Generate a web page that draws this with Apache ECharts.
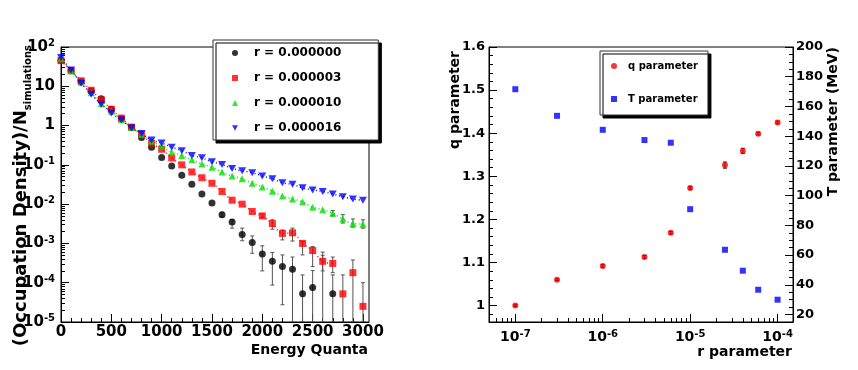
<!DOCTYPE html>
<html>
<head>
<meta charset="utf-8">
<script src="https://cdn.jsdelivr.net/npm/echarts@6/dist/echarts.min.js"></script>
<style>
  html, body { margin: 0; padding: 0; background: #fff; }
  #chart { width: 858px; height: 370px; }
</style>
</head>
<body>
<div id="chart"></div>
<script>
// ---- left panel: occupation density vs energy quanta ----
const energy = [0, 100, 200, 300, 400, 500, 600, 700, 800, 900, 1000, 1100, 1200, 1300, 1400, 1500,
  1600, 1700, 1800, 1900, 2000, 2100, 2200, 2300, 2400, 2500, 2600, 2700, 2800, 2900, 3000];
const legendNames = ['r = 0.000000', 'r = 0.000003', 'r = 0.000010', 'r = 0.000016'];

const rZero = [45, 25, 13, 7.6, 4.8, 2.6, 1.5, 0.91, 0.50, 0.28, 0.155, 0.093, 0.054, 0.032, 0.018, 0.0107,
  0.0054, 0.0035, 0.0017, 0.00105, 0.00054, 0.00035, 0.00026, 0.00022, 5.2e-5, 7.6e-5, null, 5.2e-5, null, null, null];
const rSmall = [45, 25, 13.8, 7.9, 4.5, 2.6, 1.55, 0.91, 0.60, 0.355, 0.25, 0.15, 0.10, 0.066, 0.047, 0.034,
  0.021, 0.0126, 0.0100, 0.0065, 0.0050, 0.0032, 0.0018, 0.00186, 0.0010, 0.00066, 0.00035, 0.00031, 5.2e-5, 0.00018, 2.5e-5];
const rMid = [50, 25, 12.6, 6.8, 3.6, 2.3, 1.41, 0.89, 0.59, 0.40, 0.30, 0.21, 0.174, 0.135, 0.105, 0.087,
  0.066, 0.052, 0.044, 0.034, 0.0275, 0.0214, 0.0162, 0.0135, 0.0115, 0.0083, 0.0072, 0.0059, 0.0042, 0.0032, 0.0031];
const rLarge = [54, 26, 12, 6.3, 3.5, 2.1, 1.38, 0.87, 0.63, 0.43, 0.36, 0.28, 0.23, 0.174, 0.151, 0.120,
  0.102, 0.081, 0.071, 0.063, 0.052, 0.044, 0.035, 0.032, 0.026, 0.023, 0.021, 0.018, 0.0155, 0.0135, 0.0126];

// error bars: [energy, low, high]
const rZeroErr = [[1600, 0.0047, 0.0062], [1700, 0.00245, 0.0040], [1800, 0.00117, 0.00245], [1900, 0.00056, 0.00155],
  [2000, 0.0002, 0.00087], [2100, 8.7e-5, 0.00059], [2200, 2.75e-5, 0.00051], [2300, 1e-5, 0.00045],
  [2400, 1e-5, 0.000158], [2500, 1e-5, 0.000204], [2600, 1e-5, 0.0006], [2700, 1e-5, 0.000158]];
const rSmallErr = [[2000, 0.0045, 0.0056], [2100, 0.0023, 0.0040], [2200, 0.00123, 0.0022], [2300, 0.00115, 0.00245],
  [2400, 0.00051, 0.00112], [2500, 0.00026, 0.00083], [2600, 0.0002, 0.0005], [2700, 0.00018, 0.00045],
  [2800, 1e-5, 0.000158], [2900, 1e-5, 0.00038], [3000, 1e-5, 0.0001]];
const rMidErr = [[2700, 0.0050, 0.0069], [2800, 0.0033, 0.0054], [2900, 0.0026, 0.0042], [3000, 0.00245, 0.0040]];

const energyTicks = [0, 500, 1000, 1500, 2000, 2500, 3000];
const densityTicks = [1e-5, 1e-4, 1e-3, 1e-2, 1e-1, 1, 10, 100];

// ---- right panel: fit parameters vs r ----
const rParam = [1e-7, 3e-7, 1e-6, 3e-6, 6e-6, 1e-5, 2.5e-5, 4e-5, 6e-5, 1e-4];
const qParam = [1.0, 1.06, 1.092, 1.113, 1.169, 1.273, 1.326, 1.359, 1.399, 1.425];
const qErr = [0.002, 0.002, 0.003, 0.003, 0.003, 0.003, 0.007, 0.006, 0.003, 0.003];
const tParam = [171.6, 153.7, 144.3, 137.4, 135.6, 90.9, 63.6, 49.5, 36.7, 30];

const rTicks = [1e-7, 1e-6, 1e-5, 1e-4];
const qTicks = [1.0, 1.1, 1.2, 1.3, 1.4, 1.5, 1.6];
const tTicks = [20, 40, 60, 80, 100, 120, 140, 160, 180, 200];

const FONT = 'DejaVu Sans';
const colors = ['#000000', '#ff0000', '#00e000', '#0000ff'];
const invTriangle = 'path://M0,0L10,0L5,9Z';

// minor tick positions
const energyMinor = [];
for (let e = 100; e < 3060; e += 100) if (e % 500) energyMinor.push(e);
const densityMinor = [];
for (let p = -5; p < 2; p++) for (let m = 2; m <= 9; m++) densityMinor.push(m * Math.pow(10, p));
const rMinor = [];
for (let p = -8; p < -4; p++) for (let m = 2; m <= 9; m++) {
  const v = m * Math.pow(10, p);
  if (v > 5e-8 && v < 1.5e-4) rMinor.push(v);
}
const qMinor = [];
for (let i = 0; i <= 32; i++) { const v = +(0.96 + i * 0.02).toFixed(2); if (v > 0.962 && Math.round(v * 100) % 10) qMinor.push(v); }
const tMinor = [];
for (let t = 15; t < 200; t += 5) if (t % 20) tMinor.push(t);

const supLabel = v => {
  const e = Math.round(Math.log10(v));
  if (e === 0) return '1';
  if (e === 1) return '10';
  return '10{sup|' + e + '}';
};

const pairs = (xs, ys) => xs.map((x, i) => ys[i] == null ? null : [x, ys[i]]).filter(Boolean);

const errorBar = color => (params, api) => {
  const x = api.value(0);
  const lo = api.coord([x, api.value(1)]);
  const hi = api.coord([x, api.value(2)]);
  const line = (x1, y1, x2, y2) => ({
    type: 'line', shape: { x1, y1, x2, y2 }, style: { stroke: color, lineWidth: 1 }
  });
  return {
    type: 'group',
    children: [
      line(lo[0], lo[1], hi[0], hi[1]),
      line(hi[0] - 2, hi[1], hi[0] + 2, hi[1]),
      line(lo[0] - 2, lo[1], lo[0] + 2, lo[1])
    ]
  };
};

const tickAxis = (extra) => Object.assign({
  axisLine: { show: true, lineStyle: { color: '#000', width: 1 } },
  axisTick: { show: true, inside: true, length: 8, lineStyle: { color: '#000' } },
  splitLine: { show: false },
  axisLabel: { color: '#000', fontFamily: FONT, fontWeight: 'bold', fontSize: 15 }
}, extra);

const minorAxis = (extra, ticks, len) => Object.assign({
  axisLine: { show: false },
  axisTick: { show: true, inside: true, length: len || 4, lineStyle: { color: '#000' }, customValues: ticks },
  axisLabel: { show: false },
  splitLine: { show: false }
}, extra);

const supRich = { sup: { fontSize: 10, fontWeight: 'bold', fontFamily: FONT, verticalAlign: 'top', padding: [0, 0, 7, 0] } };

const chart = echarts.init(document.getElementById('chart'), null, { renderer: 'canvas' });

const option = {
  animation: false,
  backgroundColor: '#fff',
  grid: [
    { left: 61, top: 47, width: 308, height: 275, show: true, borderColor: '#000', borderWidth: 1, backgroundColor: 'transparent' },
    { left: 489, top: 47, width: 304, height: 275, show: true, borderColor: '#000', borderWidth: 1, backgroundColor: 'transparent' }
  ],
  xAxis: [
    tickAxis({
      gridIndex: 0, type: 'value', min: 0, max: 3060, position: 'bottom',
      axisTick: { show: true, inside: true, length: 8, lineStyle: { color: '#000' }, customValues: energyTicks },
      axisLabel: {
        color: '#000', fontFamily: FONT, fontWeight: 'bold', fontSize: 15, margin: 3,
        customValues: energyTicks, formatter: v => String(v)
      }
    }),
    minorAxis({ gridIndex: 0, type: 'value', min: 0, max: 3060, position: 'bottom' }, energyMinor),
    tickAxis({
      gridIndex: 1, type: 'log', logBase: 10, min: 5e-8, max: 1.5e-4, position: 'bottom',
      axisTick: { show: true, inside: true, length: 8, lineStyle: { color: '#000' }, customValues: rTicks },
      axisLabel: {
        color: '#000', fontFamily: FONT, fontWeight: 'bold', fontSize: 14, margin: 7,
        customValues: rTicks, formatter: supLabel, rich: supRich
      }
    }),
    minorAxis({ gridIndex: 1, type: 'log', logBase: 10, min: 5e-8, max: 1.5e-4, position: 'bottom' }, rMinor)
  ],
  yAxis: [
    tickAxis({
      gridIndex: 0, type: 'log', logBase: 10, min: 1e-5, max: 100, position: 'left',
      axisTick: { show: true, inside: true, length: 8, lineStyle: { color: '#000' }, customValues: densityTicks },
      axisLabel: {
        color: '#000', fontFamily: FONT, fontWeight: 'bold', fontSize: 15, margin: 6,
        customValues: densityTicks, formatter: supLabel, rich: supRich
      }
    }),
    minorAxis({ gridIndex: 0, type: 'log', logBase: 10, min: 1e-5, max: 100, position: 'left' }, densityMinor),
    tickAxis({
      gridIndex: 1, type: 'value', min: 0.962, max: 1.6, position: 'left',
      axisTick: { show: true, inside: true, length: 8, lineStyle: { color: '#000' }, customValues: qTicks },
      axisLabel: {
        color: '#000', fontFamily: FONT, fontWeight: 'bold', fontSize: 13, margin: 4,
        customValues: qTicks, formatter: v => (Math.abs(v - 1) < 1e-9 ? '1' : v.toFixed(1))
      }
    }),
    minorAxis({ gridIndex: 1, type: 'value', min: 0.962, max: 1.6, position: 'left' }, qMinor),
    tickAxis({
      gridIndex: 1, type: 'value', min: 15, max: 200, position: 'right',
      axisTick: { show: true, inside: true, length: 8, lineStyle: { color: '#000' }, customValues: tTicks },
      axisLabel: { color: '#000', fontFamily: FONT, fontWeight: 'bold', fontSize: 13, margin: 3, customValues: tTicks }
    }),
    minorAxis({ gridIndex: 1, type: 'value', min: 15, max: 200, position: 'right' }, tMinor)
  ],
  legend: [
    {
      data: legendNames.map((n, i) => ({ name: n, icon: i === 3 ? invTriangle : undefined })),
      orient: 'vertical', left: 213, top: 40,
      itemWidth: 6, itemHeight: 6, itemGap: 11,
      padding: [6, 37, 5, 19],
      backgroundColor: '#fff', borderColor: '#333', borderWidth: 1,
      shadowColor: '#000', shadowBlur: 0, shadowOffsetX: 3, shadowOffsetY: 3,
      selectedMode: false,
      textStyle: { fontFamily: FONT, fontWeight: 'bold', fontSize: 12, color: '#000', lineHeight: 14, padding: [0, 0, 0, 11] }
    },
    {
      data: ['q parameter', 'T parameter'],
      orient: 'vertical', left: 600, top: 51,
      itemWidth: 6, itemHeight: 6, itemGap: 21,
      padding: [9, 10, 10, 11],
      backgroundColor: '#fff', borderColor: '#333', borderWidth: 1,
      shadowColor: '#000', shadowBlur: 0, shadowOffsetX: 3, shadowOffsetY: 3,
      selectedMode: false,
      textStyle: { fontFamily: FONT, fontWeight: 'bold', fontSize: 10, color: '#000', lineHeight: 12, padding: [0, 0, 0, 6] }
    }
  ],
  graphic: [
    { type: 'text', x: 368, y: 350, style: { text: 'Energy Quanta', fontFamily: FONT, fontWeight: 'bold', fontSize: 14, fill: '#000', align: 'right', verticalAlign: 'middle' } },
    { type: 'text', x: 792, y: 352, style: { text: 'r parameter', fontFamily: FONT, fontWeight: 'bold', fontSize: 14, fill: '#000', align: 'right', verticalAlign: 'middle' } },
    {
      type: 'text', x: 21, y: 45, rotation: Math.PI / 2,
      style: {
        text: '(Occupation Density)/N{sub|simulations}', fontFamily: FONT, fontWeight: 'bold', fontSize: 18, fill: '#000',
        align: 'right', verticalAlign: 'middle',
        rich: { sub: { fontFamily: FONT, fontWeight: 'bold', fontSize: 10, verticalAlign: 'bottom', padding: [0, 0, -3, 0] } }
      }
    },
    { type: 'text', x: 455, y: 51, rotation: Math.PI / 2, style: { text: 'q parameter', fontFamily: FONT, fontWeight: 'bold', fontSize: 14, fill: '#000', align: 'right', verticalAlign: 'middle' } },
    { type: 'text', x: 833, y: 47, rotation: Math.PI / 2, style: { text: 'T parameter (MeV)', fontFamily: FONT, fontWeight: 'bold', fontSize: 14, fill: '#000', align: 'right', verticalAlign: 'middle' } }
  ],
  series: [
    // fit curves (dotted)
    { name: 'fit3', type: 'line', xAxisIndex: 0, yAxisIndex: 0, data: pairs(energy.slice(0, 28), rSmall.slice(0, 28)), smooth: 0.4, showSymbol: false, silent: true, lineStyle: { color: colors[1], width: 1.5, type: [1, 3] }, z: 1 },
    { name: 'fit10', type: 'line', xAxisIndex: 0, yAxisIndex: 0, data: pairs(energy, rMid), smooth: 0.4, showSymbol: false, silent: true, lineStyle: { color: colors[2], width: 1.5, type: [1, 3] }, z: 1 },
    { name: 'fit16', type: 'line', xAxisIndex: 0, yAxisIndex: 0, data: pairs(energy, rLarge), smooth: 0.4, showSymbol: false, silent: true, lineStyle: { color: colors[3], width: 1.5, type: [1, 3] }, z: 1 },
    // error bars
    { name: 'err0', type: 'custom', xAxisIndex: 0, yAxisIndex: 0, data: rZeroErr, encode: { x: 0, y: [1, 2] }, renderItem: errorBar('#555'), clip: true, silent: true, z: 2 },
    { name: 'err3', type: 'custom', xAxisIndex: 0, yAxisIndex: 0, data: rSmallErr, encode: { x: 0, y: [1, 2] }, renderItem: errorBar('#555'), clip: true, silent: true, z: 2 },
    { name: 'err10', type: 'custom', xAxisIndex: 0, yAxisIndex: 0, data: rMidErr, encode: { x: 0, y: [1, 2] }, renderItem: errorBar('#555'), clip: true, silent: true, z: 2 },
    // points
    { name: legendNames[0], type: 'scatter', xAxisIndex: 0, yAxisIndex: 0, data: pairs(energy, rZero), symbol: 'circle', symbolSize: 7, itemStyle: { color: colors[0] }, z: 3 },
    { name: legendNames[1], type: 'scatter', xAxisIndex: 0, yAxisIndex: 0, data: pairs(energy, rSmall), symbol: 'rect', symbolSize: 7, itemStyle: { color: colors[1] }, z: 3 },
    { name: legendNames[2], type: 'scatter', xAxisIndex: 0, yAxisIndex: 0, data: pairs(energy, rMid), symbol: 'triangle', symbolSize: 7, itemStyle: { color: colors[2] }, z: 3 },
    { name: legendNames[3], type: 'scatter', xAxisIndex: 0, yAxisIndex: 0, data: pairs(energy, rLarge), symbol: invTriangle, symbolSize: [8, 7], itemStyle: { color: colors[3] }, z: 3 },
    // right panel
    { name: 'qerr', type: 'custom', xAxisIndex: 2, yAxisIndex: 2, data: rParam.map((r, i) => [r, qParam[i] - qErr[i], qParam[i] + qErr[i]]), encode: { x: 0, y: [1, 2] }, renderItem: errorBar('#000'), silent: true, z: 2 },
    { name: 'q parameter', type: 'scatter', xAxisIndex: 2, yAxisIndex: 2, data: pairs(rParam, qParam), symbol: 'circle', symbolSize: 6, itemStyle: { color: '#ff0000' }, z: 3 },
    { name: 'T parameter', type: 'scatter', xAxisIndex: 2, yAxisIndex: 4, data: pairs(rParam, tParam), symbol: 'rect', symbolSize: 6, itemStyle: { color: '#0000ff' }, z: 3 }
  ]
};

chart.setOption(option);
</script>
</body>
</html>
